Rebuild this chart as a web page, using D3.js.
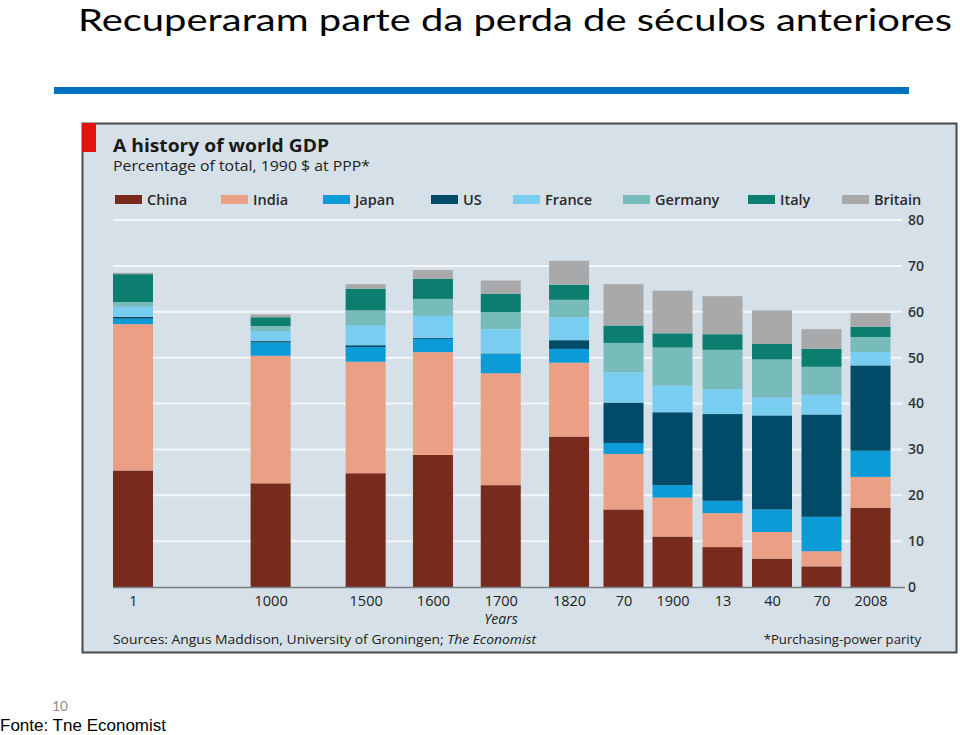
<!DOCTYPE html>
<html><head><meta charset="utf-8">
<script src="https://cdn.jsdelivr.net/npm/d3@7"></script>
<style>body{margin:0;background:#fff;} svg{display:block}</style>
</head><body>
<svg id="c" width="960" height="735"></svg>
<script>
// ---------- DATA ----------
const years = ["1","1000","1500","1600","1700","1820","70","1900","13","40","70","2008"];
const countries = ["China","India","Japan","US","France","Germany","Italy","Britain"];
const china   = [25.4,22.6,24.8,28.8,22.2,32.8,16.9,11.0, 8.7, 6.2, 4.5,17.3];
const india   = [31.9,27.8,24.3,22.4,24.4,16.1,12.1, 8.5, 7.4, 5.8, 3.3, 6.7];
const japan   = [ 1.2, 2.9, 3.2, 2.9, 4.2, 3.0, 2.4, 2.7, 2.7, 4.9, 7.5, 5.7];
const us      = [ 0.4, 0.3, 0.4, 0.2, 0.1, 1.9, 8.8,15.9,18.9,20.5,22.3,18.6];
const france  = [ 2.2, 2.2, 4.4, 4.8, 5.3, 5.0, 6.6, 5.8, 5.4, 3.9, 4.3, 2.9];
const germany = [ 1.0, 1.1, 3.2, 3.7, 3.7, 3.8, 6.4, 8.3, 8.6, 8.3, 6.1, 3.3];
const italy   = [ 6.1, 1.9, 4.7, 4.4, 4.0, 3.3, 3.8, 3.1, 3.4, 3.4, 3.9, 2.2];
const britain = [ 0.3, 0.6, 1.0, 1.9, 2.9, 5.2, 9.0, 9.3, 8.3, 7.3, 4.3, 3.0];
const yTicks = [0,10,20,30,40,50,60,70,80];

// ---------- LAYOUT / STYLE ----------
const slots = [0, 2.78, 4.70, 6.06, 7.43, 8.81, 9.91, 10.90, 11.91, 12.91, 13.91, 14.90]; // horizontal slot of each bar
const colors = ["#782a1d","#eba086","#0b9bd7","#024b68","#79cdf0","#77bbbb","#0b7e70","#a8a9ab"];
const chartFont = "'Open Sans', sans-serif";

const series = [china, india, japan, us, france, germany, italy, britain];
const rows = years.map((y,i) => {
  const r = {idx:i, year:y};
  countries.forEach((c,k) => r[c] = series[k][i]);
  return r;
});

const svg = d3.select("#c");

// slide title
svg.append("text").attr("x",78).attr("y",31)
  .attr("font-family","Lato, 'Open Sans', sans-serif").attr("font-size",30.5)
  .attr("textLength",874).attr("lengthAdjust","spacingAndGlyphs")
  .attr("fill","#000").text("Recuperaram parte da perda de séculos anteriores");

// blue rule
svg.append("rect").attr("x",54).attr("y",87).attr("width",855).attr("height",7).attr("fill","#0070c0");

// chart panel
svg.append("rect").attr("x",82.5).attr("y",123.5).attr("width",874).attr("height",529)
  .attr("fill","#d5e0e8").attr("stroke","#4a4a4a").attr("stroke-width",2);
svg.append("rect").attr("x",82).attr("y",123).attr("width",14).attr("height",29).attr("fill","#e3120b");

// chart titles
svg.append("text").attr("x",113).attr("y",152).attr("font-family",chartFont)
  .attr("font-weight","bold").attr("font-size",18).attr("fill","#1a1a1a")
  .attr("textLength",216).attr("lengthAdjust","spacingAndGlyphs")
  .text("A history of world GDP");
svg.append("text").attr("x",113).attr("y",171).attr("font-family",chartFont)
  .attr("font-size",14).attr("fill","#222")
  .attr("textLength",257).attr("lengthAdjust","spacingAndGlyphs")
  .text("Percentage of total, 1990 $  at PPP*");

// legend
const legendX = [115,221,323,431,513,623,748,842];
const lg = svg.append("g").selectAll("g").data(countries).join("g")
  .attr("transform",(d,i)=>`translate(${legendX[i]},195)`);
lg.append("rect").attr("width",27).attr("height",9).attr("fill",(d,i)=>colors[i]);
lg.append("text").attr("x",32).attr("y",9.5).attr("font-family",chartFont)
  .attr("font-size",14.5).attr("font-weight","600").attr("fill","#2a2a2a").text(d=>d);

// scales
const y = d3.scaleLinear().domain([0,80]).range([587,220]);
const x = d3.scaleLinear().domain([0,14.9]).range([133,870.5]);
const barW = 40;

// gridlines
svg.append("g").selectAll("line").data(yTicks.filter(t=>t>0)).join("line")
  .attr("x1",113).attr("x2",902).attr("y1",d=>y(d)).attr("y2",d=>y(d))
  .attr("stroke","#f4f7f9").attr("stroke-width",2);

// stacked bars
const stacked = d3.stack().keys(countries)(rows);
svg.append("g").selectAll("g").data(stacked).join("g")
  .attr("fill",(d,i)=>colors[i])
  .selectAll("rect").data(d=>d).join("rect")
  .attr("x",d=>x(slots[d.data.idx]) - barW/2)
  .attr("width",barW)
  .attr("y",d=>y(d[1]))
  .attr("height",d=>y(d[0]) - y(d[1]));

// baseline
svg.append("line").attr("x1",113).attr("x2",905).attr("y1",y(0)+0.5).attr("y2",y(0)+0.5)
  .attr("stroke","#7a7f84").attr("stroke-width",1.5);

// y axis labels (right)
const yAxis = svg.append("g").attr("transform","translate(906,0)")
  .call(d3.axisRight(y).tickValues(yTicks).tickSize(0).tickPadding(2));
yAxis.select(".domain").remove();
yAxis.selectAll("text").attr("font-family",chartFont).attr("font-size",14)
  .attr("font-weight","600").attr("fill","#333");

// x axis labels
const xAxis = svg.append("g").attr("transform","translate(0,592)")
  .call(d3.axisBottom(x).tickValues(slots).tickFormat((d,i)=>years[i]).tickSize(0).tickPadding(4));
xAxis.select(".domain").remove();
xAxis.selectAll("text").attr("font-family",chartFont).attr("font-size",14.5)
  .attr("fill","#222");

svg.append("text").attr("x",501).attr("y",624).attr("text-anchor","middle")
  .attr("font-family",chartFont).attr("font-style","italic").attr("font-size",14)
  .attr("fill","#222").text("Years");

const src = svg.append("text").attr("x",113).attr("y",644).attr("font-family",chartFont)
  .attr("font-size",13.5).attr("fill","#222")
  .attr("textLength",423).attr("lengthAdjust","spacingAndGlyphs");
src.append("tspan").text("Sources: Angus Maddison, University of Groningen; ");
src.append("tspan").attr("font-style","italic").text("The Economist");
svg.append("text").attr("x",921).attr("y",644).attr("text-anchor","end")
  .attr("font-family",chartFont).attr("font-size",13.2).attr("fill","#222")
  .text("*Purchasing-power parity");

// slide footer
svg.append("text").attr("x",60).attr("y",711).attr("text-anchor","middle")
  .attr("font-family","Lato, sans-serif").attr("font-size",13.5).attr("fill","#8c8c8c").text("10");
svg.append("text").attr("x",0).attr("y",731)
  .attr("font-family","'Liberation Sans', Arial, sans-serif").attr("font-size",17)
  .attr("fill","#000").text("Fonte: Tne Economist");
</script>
</body></html>
